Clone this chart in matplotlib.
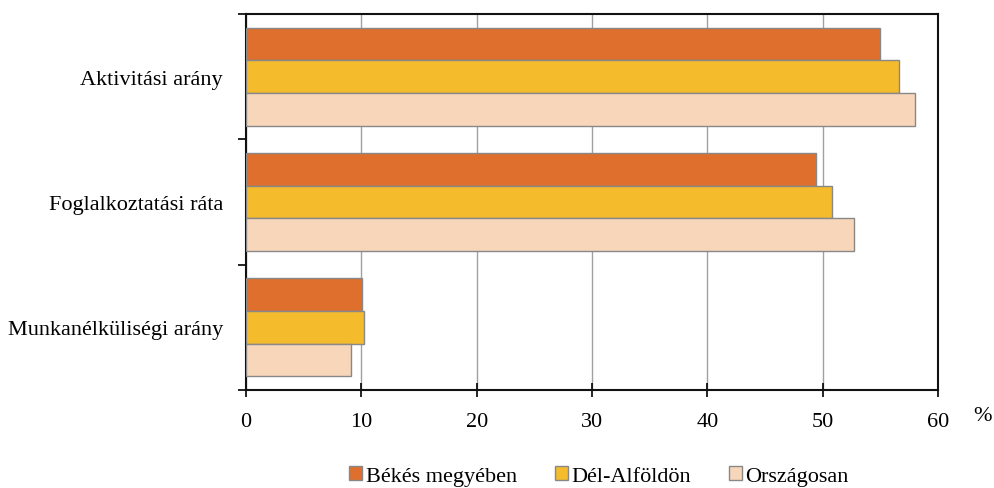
import numpy as np
import matplotlib
matplotlib.use("Agg")
import matplotlib.pyplot as plt
from matplotlib.patches import Patch

# --- Adatok ---
categories = ["Aktivitási arány", "Foglalkoztatási ráta", "Munkanélküliségi arány"]
series = ["Békés megyében", "Dél-Alföldön", "Országosan"]
bekes = [55.0, 49.4, 10.1]
del_alfold = [56.6, 50.8, 10.2]
orszagos = [58.0, 52.7, 9.1]
xticks = [0, 10, 20, 30, 40, 50, 60]

colors = ["#DE6F2C", "#F4BC2C", "#F8D6B9"]
values = [bekes, del_alfold, orszagos]

plt.rcParams['font.family'] = ['Liberation Serif', 'DejaVu Serif']
fs = 16

fig = plt.figure(figsize=(9.95, 4.89), dpi=100)
ax = fig.add_axes([0.2472, 0.2004, 0.6955, 0.7689])

n = len(categories)
h = 0.26
ypos = np.arange(n)
for i, (vals, c) in enumerate(zip(values, colors)):
    ax.barh(ypos + (i - 1) * h, vals, height=h, color=c,
            edgecolor="#888888", linewidth=1.0, zorder=3)

ax.set_xlim(0, 60)
ax.set_ylim(n - 0.5, -0.5)
ax.set_xticks(xticks)
ax.set_xticklabels([str(t) for t in xticks], fontsize=fs)
ax.xaxis.grid(True, color="#a0a0a0", linewidth=1.0, zorder=0)
ax.tick_params(axis="x", direction="inout", length=10, width=1.2, pad=11)

# kategória nevek középen, tick jelek a határokon
ax.set_yticks(ypos)
ax.set_yticklabels(categories, fontsize=fs)
ax.tick_params(axis="y", which="major", length=0, pad=16.5)
ax.set_yticks(np.arange(-0.5, n + 0.5, 1), minor=True)
ax.tick_params(axis="y", which="minor", length=6, width=1.2, direction="out")

for s in ax.spines.values():
    s.set_linewidth(1.5)
    s.set_color("#111111")

ax.text(1.065, -0.068, "%", transform=ax.transAxes, fontsize=fs, ha="center", va="center")

handles = [Patch(facecolor=c, edgecolor="#888888", label=s) for s, c in zip(series, colors)]
fig.legend(handles=handles, loc="center", bbox_to_anchor=(0.602, 0.025), ncol=3,
           frameon=False, fontsize=fs, handlelength=0.6, handleheight=0.6,
           handletextpad=0.15, columnspacing=1.7)

fig.savefig("out.png", dpi=100)
